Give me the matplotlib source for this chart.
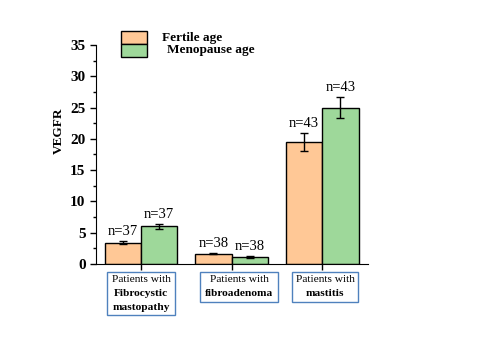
import matplotlib
matplotlib.use('Agg')
import matplotlib.pyplot as plt
import matplotlib.patches as patches
import numpy as np

plt.rcParams['font.family'] = ['Liberation Serif', 'DejaVu Serif']

groups = ['Fibrocystic\nmastopathy', 'fibroadenoma', 'mastitis']
fertile = [3.4, 1.6, 19.5]
fertile_err = [0.3, 0.1, 1.45]
meno = [6.0, 1.1, 25.0]
meno_err = [0.4, 0.1, 1.7]
fertile_n = ['n=37', 'n=38', 'n=43']
meno_n = ['n=37', 'n=38', 'n=43']

orange = '#FFC896'
green = '#9ED89A'

fig = plt.figure(figsize=(4.8, 3.6), dpi=100)
ax = fig.add_axes([0.2, 0.267, 0.567, 0.608])

x = np.arange(len(groups))
w = 0.4
ax.bar(x - w / 2, fertile, w, yerr=fertile_err, color=orange, edgecolor='black',
       linewidth=1, capsize=3, error_kw={'elinewidth': 1, 'capthick': 1})
ax.bar(x + w / 2, meno, w, yerr=meno_err, color=green, edgecolor='black',
       linewidth=1, capsize=3, error_kw={'elinewidth': 1, 'capthick': 1})

for i in range(len(groups)):
    ax.text(x[i] - w / 2, fertile[i] + fertile_err[i] + 0.5, fertile_n[i],
            ha='center', va='bottom', fontsize=10.5)
    ax.text(x[i] + w / 2, meno[i] + meno_err[i] + 0.5, meno_n[i],
            ha='center', va='bottom', fontsize=10.5)

ax.set_xlim(-0.495, 2.505)
ax.set_ylim(0, 35)
ax.set_yticks(range(0, 36, 5))
ax.set_yticks(np.arange(2.5, 35, 5), minor=True)
ax.set_xticks(x)
ax.set_xticklabels([])
ax.tick_params(axis='both', direction='out', length=4, width=1)
ax.tick_params(axis='y', which='minor', length=2.5, width=1)
for lbl in ax.get_yticklabels():
    lbl.set_fontweight('bold')
    lbl.set_fontsize(11)
ax.spines['top'].set_visible(False)
ax.spines['right'].set_visible(False)
ax.set_ylabel('VEGFR', fontweight='bold', fontsize=9.5)
ax.yaxis.set_label_coords(-0.114, 0.607)

# legend drawn by hand to match the offset labels
leg_items = [(orange, 'Fertile age', 162, 31), (green, 'Menopause age', 167, 44)]
for col, txt, tx, py in leg_items:
    fig.patches.append(patches.Rectangle((121 / 480, 1 - (py + 13) / 360), 26 / 480, 13 / 360,
                                         transform=fig.transFigure, facecolor=col,
                                         edgecolor='black', linewidth=1))
    fig.text(tx / 480, 1 - (py + 6.5) / 360, txt, ha='left', va='center',
             fontsize=9.5, fontweight='bold')

# boxed category labels under the axis
boxes = [(107, 272, 68, 43), (200, 272, 78, 30), (292, 272, 66, 30)]
for (bx, by, bw, bh), name in zip(boxes, groups):
    rect = patches.Rectangle((bx / 480, 1 - (by + bh) / 360), bw / 480, bh / 360,
                             transform=fig.transFigure, fill=False,
                             edgecolor='#4F81BD', linewidth=1)
    fig.patches.append(rect)
    cx = (bx + bw / 2) / 480
    fig.text(cx, 1 - (by + 8) / 360, 'Patients with', ha='center', va='center', fontsize=8.2)
    lines = name.split('\n')
    for j, ln in enumerate(lines):
        fig.text(cx, 1 - (by + 21 + 14 * j) / 360, ln, ha='center', va='center',
                 fontsize=8.2, fontweight='bold')

fig.savefig('out.png', dpi=100)
